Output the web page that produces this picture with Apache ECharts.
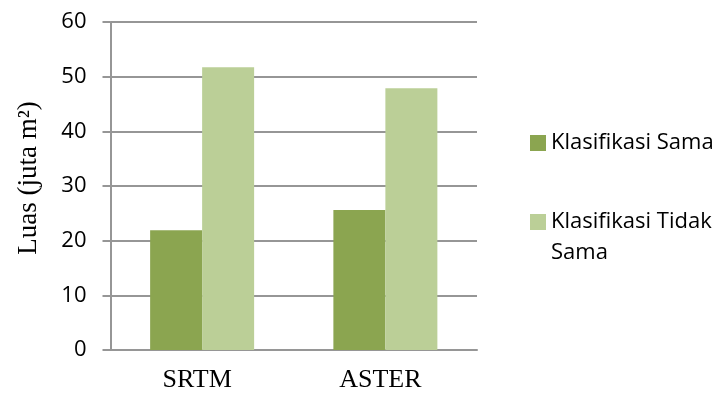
<!DOCTYPE html>
<html lang="id">
<head>
    <meta charset="UTF-8">
    <title>Luas</title>
    <script src="https://cdn.jsdelivr.net/npm/echarts@6/dist/echarts.min.js"></script>
    <style>
        html, body { margin: 0; padding: 0; background: #fff; }
        #main { width: 721px; height: 394px; }
    </style>
</head>
<body>
<div id="main"></div>
<script type="text/javascript">
    // data
    var categories = ['SRTM', 'ASTER'];
    var sama = [21.9, 25.6];
    var tidakSama = [51.7, 47.9];
    var seriesNames = ['Klasifikasi Sama', 'Klasifikasi Tidak Sama'];

    var chart = echarts.init(document.getElementById('main'));
    var gridColor = '#969696';

    chart.setOption({
        animation: false,
        grid: { left: 110.5, right: 244, top: 22, bottom: 44 },
        legend: [
            {
                data: [seriesNames[0]],
                left: 530, top: 132, padding: 0,
                itemWidth: 16, itemHeight: 16, icon: 'rect',
                textStyle: { fontFamily: 'Open Sans', fontSize: 22, color: '#000', lineHeight: 16 }
            },
            {
                data: [seriesNames[1]],
                left: 530, top: 175.5, padding: 0,
                itemWidth: 16, itemHeight: 16, icon: 'rect',
                // blank first line keeps the first text line level with the icon
                formatter: function () { return ' \nKlasifikasi Tidak\nSama'; },
                textStyle: { fontFamily: 'Open Sans', fontSize: 22, color: '#000', lineHeight: 31 }
            }
        ],
        xAxis: {
            type: 'category',
            data: categories,
            axisLine: { lineStyle: { color: gridColor, width: 2 } },
            axisTick: { show: false },
            axisLabel: {
                margin: 17, padding: [0, 10, 0, 0],
                fontFamily: 'Liberation Serif', fontSize: 26, color: '#000'
            }
        },
        yAxis: {
            type: 'value',
            min: 0, max: 60, interval: 10,
            name: 'Luas (juta m²)',
            nameLocation: 'middle',
            nameGap: 68,
            nameTextStyle: { fontFamily: 'Liberation Serif', fontSize: 27, color: '#000', padding: [0, 0, 0, 16] },
            axisLine: { show: true, lineStyle: { color: gridColor, width: 2 } },
            axisTick: { show: true, length: 8, lineStyle: { color: gridColor, width: 2 } },
            splitLine: { lineStyle: { color: gridColor, width: 2 } },
            axisLabel: { margin: 24, fontFamily: 'Open Sans', fontSize: 22, color: '#000' }
        },
        series: [
            {
                name: seriesNames[0], type: 'bar', data: sama,
                barWidth: 52, barGap: '0%',
                itemStyle: { color: '#8ba550' }
            },
            {
                name: seriesNames[1], type: 'bar', data: tidakSama,
                barWidth: 52, barGap: '0%',
                itemStyle: { color: '#bbcf97' }
            }
        ]
    });
</script>
</body>
</html>
